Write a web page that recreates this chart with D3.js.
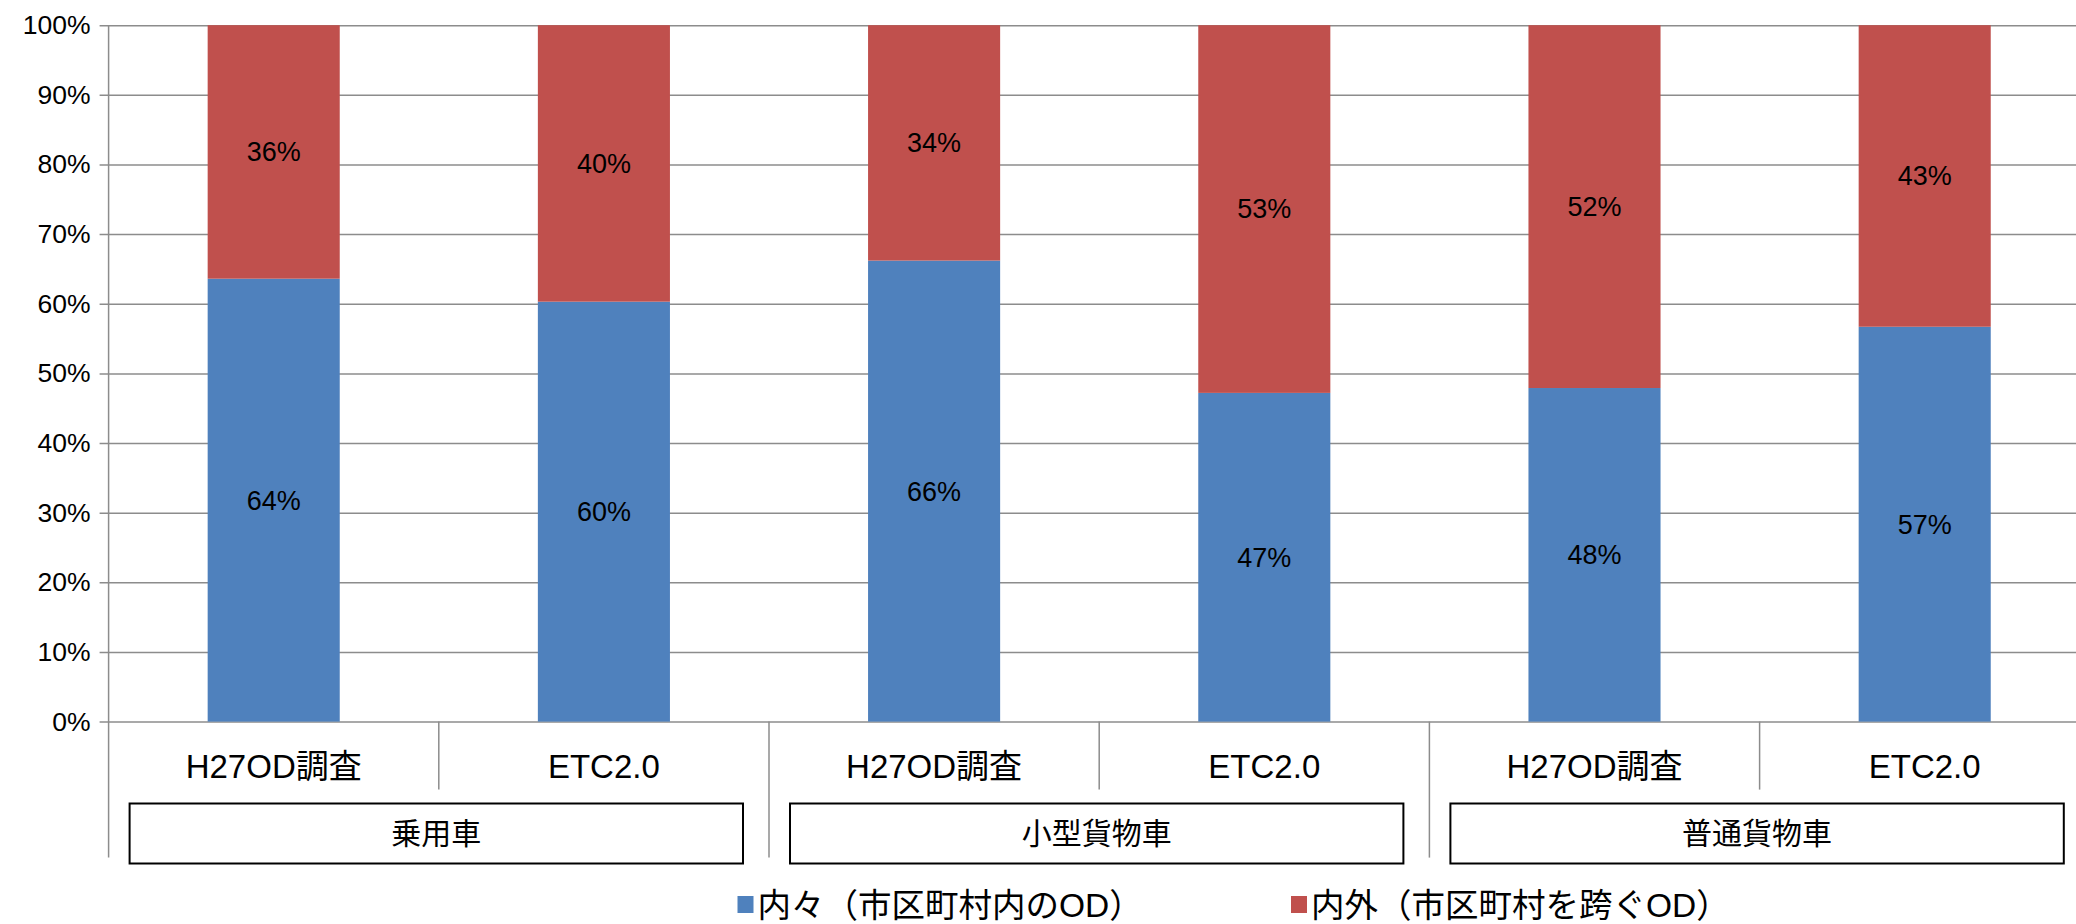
<!DOCTYPE html>
<html>
<head>
<meta charset="utf-8">
<script src="https://cdn.jsdelivr.net/npm/d3@7"></script>
<style>
  body { margin: 0; background: #fff; }
  svg { display: block; font-family: "Liberation Sans", Arial, "Noto Sans CJK JP", sans-serif; }
  .grid line { stroke: #8c8c8c; stroke-width: 1.5; }
  .sep { stroke: #8c8c8c; stroke-width: 1.5; }
  .group-box { fill: none; stroke: #000; stroke-width: 2; }
</style>
</head>
<body>
<svg id="chart" width="2076" height="924"></svg>
<script>
// chart data
var categories = ['H27OD調査', 'ETC2.0', 'H27OD調査', 'ETC2.0', 'H27OD調査', 'ETC2.0'];
var groups = ['乗用車', '小型貨物車', '普通貨物車'];
var naiNai = [0.636, 0.603, 0.662, 0.472, 0.479, 0.567];   // 内々
var naiGai = [0.364, 0.397, 0.338, 0.528, 0.521, 0.433];   // 内外
var seriesNames = ['内々（市区町村内のOD）', '内外（市区町村を跨ぐOD）'];
var seriesColors = ['#4f81bd', '#c0504d'];
var yTicks = [0, 0.1, 0.2, 0.3, 0.4, 0.5, 0.6, 0.7, 0.8, 0.9, 1.0];

var layout = {
  left: 108.6,
  right: 2089.8,   // the plot runs a little past the picture edge
  top: 25.2,
  bottom: 721.6,
};

var svg = d3.select('#chart');

var x = d3.scaleBand()
  .domain(d3.range(categories.length))
  .range([layout.left, layout.right])
  .padding(0);

var y = d3.scaleLinear()
  .domain([0, 1])
  .range([layout.bottom, layout.top]);

var barWidth = x.bandwidth() * 0.4;
var fmt = d3.format('.0%');

// gridlines and the y axis
var yAxis = d3.axisLeft(y)
  .tickValues(yTicks)
  .tickFormat(fmt)
  .tickSizeInner(-(layout.right - layout.left))
  .tickSizeOuter(0)
  .tickPadding(18);

var axisGroup = svg.append('g')
  .attr('class', 'grid')
  .attr('transform', 'translate(' + layout.left + ',0)')
  .call(yAxis);

axisGroup.select('.domain').remove();
axisGroup.selectAll('.tick line').attr('x1', -9);
axisGroup.selectAll('.tick text')
  .attr('fill', '#000')
  .style('font-size', '26.5px');

// stacked bars
var rows = categories.map(function (c, i) {
  return { index: i, values: [naiNai[i], naiGai[i]] };
});

var barGroup = svg.append('g').attr('class', 'bars');

rows.forEach(function (row) {
  var base = 0;
  row.values.forEach(function (v, s) {
    var cx = x(row.index) + x.bandwidth() / 2;
    barGroup.append('rect')
      .attr('x', cx - barWidth / 2)
      .attr('y', y(base + v))
      .attr('width', barWidth)
      .attr('height', y(base) - y(base + v))
      .attr('fill', seriesColors[s]);

    barGroup.append('text')
      .attr('x', cx)
      .attr('y', (y(base) + y(base + v)) / 2)
      .attr('dy', '0.35em')
      .attr('text-anchor', 'middle')
      .style('font-size', '27px')
      .text(fmt(v));

    base += v;
  });
});

// axis line over the gridlines
svg.append('line')
  .attr('class', 'sep')
  .attr('x1', layout.left).attr('x2', layout.left)
  .attr('y1', layout.top).attr('y2', layout.bottom + 136);

// separators under the plot
d3.range(1, categories.length + 1).forEach(function (i) {
  var xPos = layout.left + i * x.step();
  var long = (i % 2 === 0);
  svg.append('line')
    .attr('class', 'sep')
    .attr('x1', xPos).attr('x2', xPos)
    .attr('y1', layout.bottom)
    .attr('y2', layout.bottom + (long ? 136 : 68));
});

// category labels
svg.append('g').selectAll('text')
  .data(categories)
  .enter().append('text')
  .attr('x', function (d, i) { return x(i) + x.bandwidth() / 2; })
  .attr('y', 766)
  .attr('dy', '0.35em')
  .attr('text-anchor', 'middle')
  .style('font-size', '33px')
  .text(function (d) { return d; });

// group boxes
var groupWidth = x.step() * 2;
var boxGroup = svg.append('g');
groups.forEach(function (g, i) {
  var gx = layout.left + i * groupWidth;
  boxGroup.append('rect')
    .attr('class', 'group-box')
    .attr('x', gx + 21)
    .attr('y', 803.5)
    .attr('width', groupWidth - 47)
    .attr('height', 60);
  boxGroup.append('text')
    .attr('x', gx + 21 + (groupWidth - 47) / 2)
    .attr('y', 833.5)
    .attr('dy', '0.35em')
    .attr('text-anchor', 'middle')
    .style('font-size', '30px')
    .text(g);
});

// legend
var legendX = [737.5, 1291];
var legend = svg.append('g');
seriesNames.forEach(function (name, i) {
  legend.append('rect')
    .attr('x', legendX[i])
    .attr('y', 896)
    .attr('width', 16)
    .attr('height', 17)
    .attr('fill', seriesColors[i]);
  legend.append('text')
    .attr('x', legendX[i] + 20)
    .attr('y', 905)
    .attr('dy', '0.35em')
    .style('font-size', '33.5px')
    .text(name);
});
</script>
</body>
</html>
